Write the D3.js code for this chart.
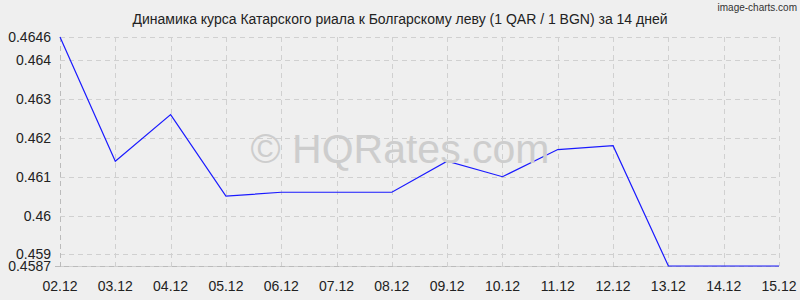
<!DOCTYPE html>
<html>
<head>
<meta charset="utf-8">
<script src="https://cdn.jsdelivr.net/npm/d3@7"></script>
<style>
  body { margin: 0; background: #efefef; }
  text { font-family: "Liberation Sans", Arial, sans-serif; }
</style>
</head>
<body>
<div id="chart"></div>
<script>
// data
var dates = ["02.12", "03.12", "04.12", "05.12", "06.12", "07.12", "08.12",
             "09.12", "10.12", "11.12", "12.12", "13.12", "14.12", "15.12"];
var rates = [0.4646, 0.4614, 0.4626, 0.4605, 0.4606, 0.4606, 0.4606,
             0.4614, 0.4610, 0.4617, 0.4618, 0.4587, 0.4587, 0.4587];
var yTicks = [0.4587, 0.459, 0.46, 0.461, 0.462, 0.463, 0.464, 0.4646];
var yLabels = ["0.4587", "0.459", "0.46", "0.461", "0.462", "0.463", "0.464", "0.4646"];

var svgWidth = 800, svgHeight = 300;
var margin = { top: 37, right: 21, bottom: 34, left: 60 };
var width = svgWidth - margin.left - margin.right;
var height = svgHeight - margin.top - margin.bottom;

var svg = d3.select("#chart").append("svg")
  .attr("width", svgWidth)
  .attr("height", svgHeight)
  .style("background", "#efefef");

var x = d3.scalePoint().domain(dates).range([0, width]);
var y = d3.scaleLinear().domain([0.4587, 0.4646]).range([height, 0]);

var g = svg.append("g").attr("transform", `translate(${margin.left}, ${margin.top})`);

// grid
g.append("g").selectAll("line").data(yTicks).enter().append("line")
  .attr("x1", 0).attr("x2", width)
  .attr("y1", d => Math.round(y(d)) + 0.5).attr("y2", d => Math.round(y(d)) + 0.5)
  .attr("stroke", "#d0d0d0").attr("stroke-dasharray", "5,4");
g.append("g").selectAll("line").data(dates).enter().append("line")
  .attr("x1", d => Math.round(x(d)) + 0.5).attr("x2", d => Math.round(x(d)) + 0.5)
  .attr("y1", 0).attr("y2", height)
  .attr("stroke", "#d0d0d0").attr("stroke-dasharray", "5,4");

// axes lines (slightly darker)
g.append("line").attr("x1", 0.5).attr("x2", 0.5).attr("y1", 0).attr("y2", height + 5)
  .attr("stroke", "#bbbbbb").attr("stroke-dasharray", "5,4");
g.append("line").attr("x1", -5).attr("x2", width).attr("y1", height + 0.5).attr("y2", height + 0.5)
  .attr("stroke", "#bbbbbb").attr("stroke-dasharray", "5,4");

// watermark
svg.append("text")
  .attr("x", 400).attr("y", 163)
  .attr("text-anchor", "middle")
  .attr("font-size", 41)
  .attr("fill", "#cdcdcd")
  .text("© HQRates.com");

// y labels
g.append("g").selectAll("text").data(yTicks).enter().append("text")
  .attr("x", -9)
  .attr("y", d => y(d) + 5)
  .attr("text-anchor", "end")
  .attr("font-size", 14)
  .attr("fill", "#222")
  .text((d, i) => yLabels[i]);

// x labels
g.append("g").selectAll("text").data(dates).enter().append("text")
  .attr("x", d => x(d))
  .attr("y", height + 25)
  .attr("text-anchor", "middle")
  .attr("font-size", 14)
  .attr("fill", "#222")
  .text(d => d);

// line
var line = d3.line().x((d, i) => x(dates[i])).y(d => y(d));
g.append("path").datum(rates)
  .attr("d", line)
  .attr("fill", "none")
  .attr("stroke", "#1a1aff")
  .attr("stroke-width", 1.2);

// title
svg.append("text")
  .attr("x", 400).attr("y", 24)
  .attr("text-anchor", "middle")
  .attr("font-size", 14)
  .attr("fill", "#222")
  .text("Динамика курса Катарского риала к Болгарскому леву (1 QAR / 1 BGN) за 14 дней");

svg.append("text")
  .attr("x", 797).attr("y", 11)
  .attr("text-anchor", "end")
  .attr("font-family", "DejaVu Sans Condensed, DejaVu Sans")
  .attr("font-size", 10)
  .attr("fill", "#333")
  .text("image-charts.com");
</script>
</body>
</html>
